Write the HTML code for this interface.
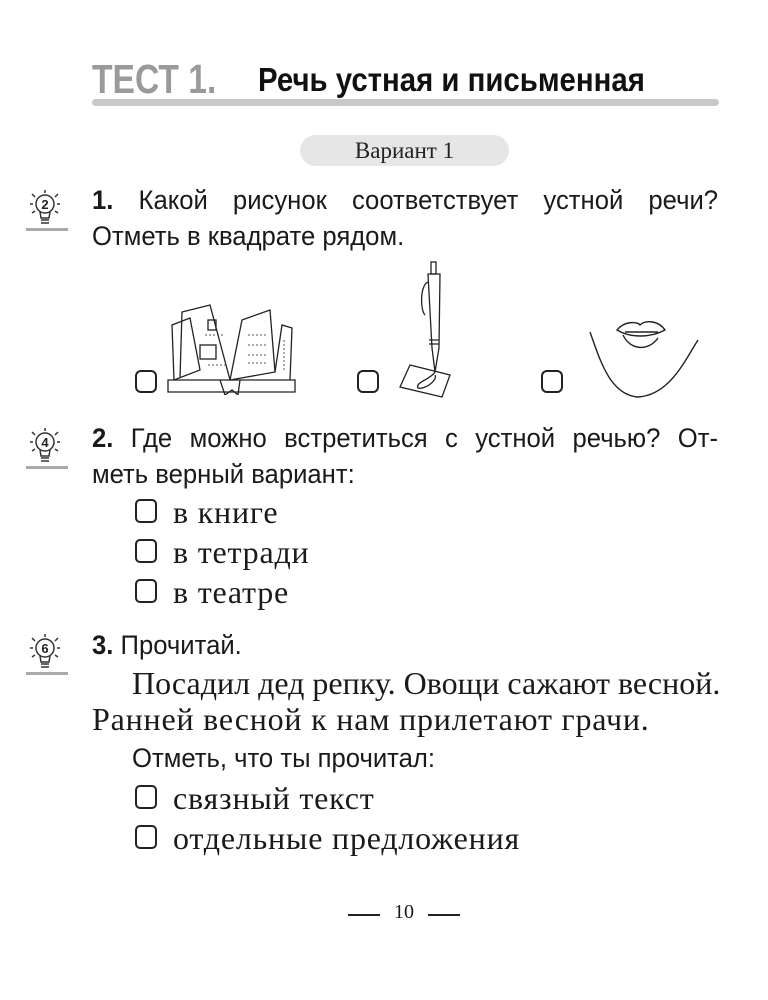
<!DOCTYPE html>
<html><head><meta charset="utf-8"><style>
body{margin:0;background:#fff;}
#p{position:relative;width:768px;height:1000px;overflow:hidden;background:#fff;color:#1a1a1a;}
.s{position:absolute;font-family:"Liberation Sans",sans-serif;font-size:27px;line-height:30px;white-space:nowrap;transform-origin:0 50%;}
.r{position:absolute;font-family:"Liberation Serif",serif;font-size:32px;line-height:32px;white-space:nowrap;letter-spacing:0.8px;}
.j{text-align:justify;text-align-last:justify;}
.cb{position:absolute;width:22px;height:23px;border:2.5px solid #222;border-radius:6px;box-sizing:border-box;}
.cbs{position:absolute;width:22px;height:24px;border:2px solid #222;border-radius:5px;box-sizing:border-box;}
b{font-weight:bold;}
</style></head><body><div id="p">

<div style="position:absolute;left:92px;top:56px;font-family:'Liberation Sans',sans-serif;font-weight:bold;font-size:41px;line-height:46px;color:#9a9a9a;transform:scaleX(0.82);transform-origin:0 50%;white-space:nowrap;">ТЕСТ 1.</div>
<div style="position:absolute;left:258px;top:60px;font-family:'Liberation Sans',sans-serif;font-weight:bold;font-size:33px;line-height:40px;color:#111;transform:scaleX(0.89);transform-origin:0 50%;white-space:nowrap;">Речь устная и письменная</div>
<div style="position:absolute;left:92px;top:99px;width:627px;height:7px;border-radius:4px;background:#c8c8c8;"></div>

<div style="position:absolute;left:300px;top:135px;width:209px;height:31px;border-radius:16px;background:#e6e6e6;text-align:center;font-family:'Liberation Serif',serif;font-size:23px;line-height:31px;color:#222;">Вариант 1</div>

<svg style="position:absolute;left:22px;top:188px" width="46" height="46" viewBox="0 0 46 46"><g stroke="#333" fill="none" stroke-width="1.5"><circle cx="23" cy="16" r="9"/><path d="M18 24 L19 30 H27 L28 24"/><path d="M19 32 H27 M19 35 H27"/><path d="M10 6l3 3M36 6l-3 3M8 16h3M35 16h3M10 25l3-2M36 25l-3-2M23 2v3"/></g><text x="23" y="21" text-anchor="middle" font-family="Liberation Sans" font-weight="bold" font-size="13" fill="#222">2</text><rect x="4" y="40" width="42" height="3" fill="#aaa"/></svg>
<svg style="position:absolute;left:22px;top:426px" width="46" height="46" viewBox="0 0 46 46"><g stroke="#333" fill="none" stroke-width="1.5"><circle cx="23" cy="16" r="9"/><path d="M18 24 L19 30 H27 L28 24"/><path d="M19 32 H27 M19 35 H27"/><path d="M10 6l3 3M36 6l-3 3M8 16h3M35 16h3M10 25l3-2M36 25l-3-2M23 2v3"/></g><text x="23" y="21" text-anchor="middle" font-family="Liberation Sans" font-weight="bold" font-size="13" fill="#222">4</text><rect x="4" y="40" width="42" height="3" fill="#aaa"/></svg>
<svg style="position:absolute;left:22px;top:632px" width="46" height="46" viewBox="0 0 46 46"><g stroke="#333" fill="none" stroke-width="1.5"><circle cx="23" cy="16" r="9"/><path d="M18 24 L19 30 H27 L28 24"/><path d="M19 32 H27 M19 35 H27"/><path d="M10 6l3 3M36 6l-3 3M8 16h3M35 16h3M10 25l3-2M36 25l-3-2M23 2v3"/></g><text x="23" y="21" text-anchor="middle" font-family="Liberation Sans" font-weight="bold" font-size="13" fill="#222">6</text><rect x="4" y="40" width="42" height="3" fill="#aaa"/></svg>

<div class="s j" style="left:92px;top:185px;width:659px;transform:scaleX(0.95);"><b>1.</b> Какой рисунок соответствует устной речи?</div>
<div class="s" style="left:92px;top:221px;transform:scaleX(0.95);">Отметь в квадрате рядом.</div>

<div class="cb" style="left:135px;top:370px;"></div>
<div class="cb" style="left:357px;top:370px;"></div>
<div class="cb" style="left:541px;top:370px;"></div>
<svg style="position:absolute;left:160px;top:300px" width="140" height="95" viewBox="0 0 140 95"><g stroke="#222" fill="none" stroke-width="1.3"><path d="M14 80 L12 25 L30 18 L40 70 Z"/><path d="M20 78 L22 12 L50 5 L70 80"/><path d="M70 80 L82 20 L110 10 L115 72 Z"/><path d="M115 72 L122 25 L132 28 L130 80"/><path d="M8 80 H135 V92 H8 Z"/><path d="M60 80 L65 95 L72 90 L78 95 L80 80"/><rect x="40" y="45" width="16" height="14"/><rect x="48" y="20" width="8" height="10"/></g><g stroke="#555" stroke-width="1" stroke-dasharray="2 2"><path d="M45 35 H64 M48 65 H66 M88 35 H106 M88 45 H107 M88 55 H108 M88 63 H108 M124 40 V72"/></g></svg>
<svg style="position:absolute;left:390px;top:260px" width="75" height="140" viewBox="0 0 75 140"><g stroke="#222" fill="none" stroke-width="1.3"><rect x="41" y="2" width="5" height="12"/><path d="M38 14 H50 L49 88 L45 112 L42 88 Z"/><path d="M38 22 C30 25 30 50 35 55"/><path d="M39 80 H49 M39 84 H49"/><path d="M20 105 L60 115 L52 137 L10 127 Z"/><path d="M45 112 C40 120 25 122 28 128 C35 130 48 120 45 115"/></g></svg>
<svg style="position:absolute;left:570px;top:310px" width="140" height="100" viewBox="0 0 140 100"><g stroke="#222" fill="none" stroke-width="1.4"><path d="M20 22 C30 50 40 85 68 87 C100 85 115 50 128 30"/><path d="M47 20 C55 10 68 12 70 15 C75 10 88 10 95 20 C80 28 60 28 47 20 Z"/><path d="M53 25 C60 40 78 42 88 28"/><path d="M55 22 H88"/></g></svg>

<div class="s j" style="left:92px;top:423px;width:659px;transform:scaleX(0.95);"><b>2.</b> Где можно встретиться с устной речью? От-</div>
<div class="s" style="left:92px;top:459px;transform:scaleX(0.95);">меть верный вариант:</div>
<div class="cbs" style="left:135px;top:499px;"></div><div class="r" style="left:173px;top:496px;">в книге</div>
<div class="cbs" style="left:135px;top:539px;"></div><div class="r" style="left:173px;top:536px;">в тетради</div>
<div class="cbs" style="left:135px;top:579px;"></div><div class="r" style="left:173px;top:576px;">в театре</div>

<div class="s" style="left:92px;top:630px;transform:scaleX(0.95);"><b>3.</b> Прочитай.</div>
<div class="r j" style="left:132px;top:667px;width:586px;letter-spacing:0;">Посадил дед репку. Овощи сажают весной.</div>
<div class="r" style="left:92px;top:703px;">Ранней весной к нам прилетают грачи.</div>
<div class="s" style="left:132px;top:743px;transform:scaleX(0.95);">Отметь, что ты прочитал:</div>
<div class="cbs" style="left:135px;top:785px;"></div><div class="r" style="left:173px;top:782px;">связный текст</div>
<div class="cbs" style="left:135px;top:825px;"></div><div class="r" style="left:173px;top:822px;">отдельные предложения</div>

<div style="position:absolute;left:348px;top:914px;width:32px;height:1.5px;background:#222;"></div>
<div style="position:absolute;left:428px;top:914px;width:32px;height:1.5px;background:#222;"></div>
<div style="position:absolute;left:394px;top:900px;font-family:'Liberation Serif',serif;font-size:20px;line-height:24px;">10</div>
</div></body></html>
